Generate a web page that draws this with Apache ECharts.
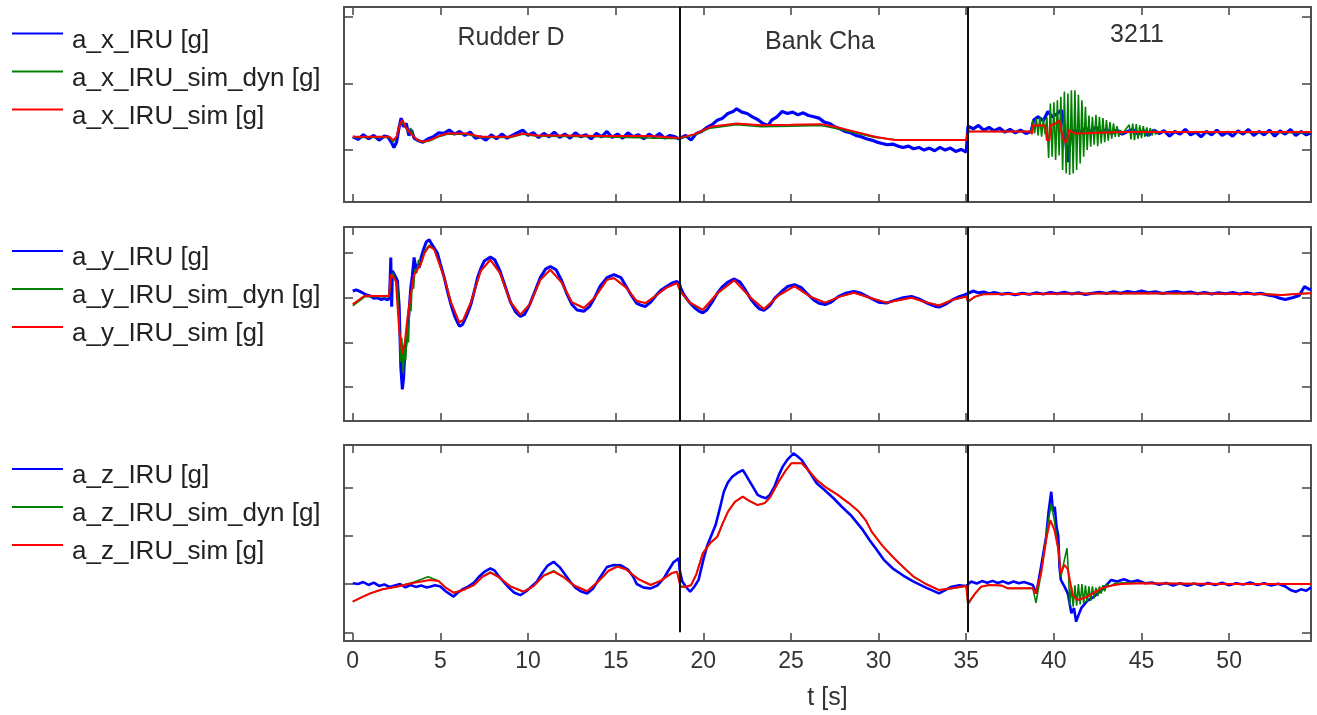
<!DOCTYPE html>
<html><head><meta charset="utf-8">
<script src="https://cdn.jsdelivr.net/npm/echarts@6/dist/echarts.min.js"></script>
<style>html,body{margin:0;padding:0;background:#fff}#c{width:1317px;height:715px}</style>
</head><body><div id="c"></div>
<script>
// ---------- data ----------
const tTicks = [0, 5, 10, 15, 20, 25, 30, 35, 40, 45, 50];
const axTicks = [0, 0.1, 0.2];
const ayTicks = [-0.4, -0.2, 0, 0.2];
const azTicks = [-0.2, 0, 0.2, 0.4];
const sectionNames = ['Rudder D', 'Bank Cha', '3211'];
const sectionBounds = [18.65, 35.07];

const namesX = ['a_x_IRU [g]', 'a_x_IRU_sim_dyn [g]', 'a_x_IRU_sim [g]'];
const namesY = ['a_y_IRU [g]', 'a_y_IRU_sim_dyn [g]', 'a_y_IRU_sim [g]'];
const namesZ = ['a_z_IRU [g]', 'a_z_IRU_sim_dyn [g]', 'a_z_IRU_sim [g]'];

// a_x
const axIRU = [[0,0.02],[0.3,0.016],[0.6,0.023],[0.9,0.017],[1.2,0.022],[1.5,0.015],[1.8,0.021],[2.0,0.02],[2.2,0.012],[2.35,0.004],[2.5,0.012],[2.65,0.035],[2.76,0.048],[2.9,0.035],[3.05,0.04],[3.2,0.022],[3.35,0.03],[3.5,0.018],[3.75,0.014],[4.0,0.012],[4.3,0.017],[4.6,0.02],[4.9,0.026],[5.2,0.025],[5.5,0.03],[5.8,0.024],[6.1,0.028],[6.4,0.022],[6.7,0.027],[7.0,0.018],[7.3,0.02],[7.6,0.015],[7.9,0.023],[8.2,0.017],[8.5,0.024],[8.8,0.018],[9.1,0.022],[9.4,0.026],[9.7,0.03],[10.0,0.022],[10.3,0.026],[10.6,0.019],[10.9,0.025],[11.2,0.02],[11.5,0.027],[11.8,0.019],[12.1,0.024],[12.4,0.018],[12.7,0.026],[13.0,0.02],[13.3,0.023],[13.6,0.017],[13.9,0.025],[14.2,0.02],[14.5,0.028],[14.8,0.019],[15.1,0.024],[15.4,0.018],[15.7,0.026],[16.0,0.02],[16.3,0.023],[16.6,0.017],[16.9,0.024],[17.2,0.019],[17.5,0.025],[17.8,0.018],[18.1,0.022],[18.4,0.02],[18.6,0.017],
[18.7,0.016],[19.0,0.022],[19.3,0.015],[19.6,0.025],[19.9,0.028],[20.2,0.034],[20.5,0.038],[20.8,0.045],[21.1,0.048],[21.4,0.055],[21.7,0.058],[21.9,0.062],[22.2,0.057],[22.5,0.055],[22.8,0.05],[23.1,0.046],[23.4,0.04],[23.7,0.037],[23.9,0.045],[24.2,0.05],[24.5,0.058],[24.8,0.055],[25.1,0.057],[25.4,0.053],[25.7,0.056],[26.0,0.052],[26.3,0.05],[26.6,0.048],[26.9,0.042],[27.2,0.04],[27.5,0.035],[27.8,0.032],[28.1,0.028],[28.4,0.026],[28.7,0.022],[29.0,0.02],[29.3,0.017],[29.6,0.015],[29.9,0.012],[30.2,0.01],[30.5,0.008],[30.8,0.009],[31.1,0.006],[31.4,0.004],[31.7,0.006],[32.0,0.002],[32.3,0.004],[32.6,0.0],[32.9,0.003],[33.2,-0.001],[33.5,0.004],[33.8,0.0],[34.1,0.003],[34.4,-0.002],[34.7,0.001],[35.0,-0.003],
[35.1,0.036],[35.4,0.032],[35.7,0.037],[36.0,0.03],[36.3,0.034],[36.6,0.029],[36.9,0.033],[37.2,0.027],[37.5,0.031],[37.8,0.026],[38.1,0.03],[38.4,0.025],[38.7,0.028],[38.85,0.045],[39.1,0.05],[39.4,0.044],[39.66,0.058],[39.9,0.05],[40.2,0.055],[40.42,0.06],[40.6,0.035],[40.8,-0.018],[40.95,0.02],[41.2,0.03],[41.5,0.026],[41.8,0.033],[42.1,0.028],[42.4,0.034],[42.7,0.026],[43.0,0.031],[43.3,0.025],[43.6,0.03],[43.9,0.024],[44.2,0.028],[44.5,0.031],[44.8,0.024],[45.1,0.029],[45.4,0.022],[45.7,0.03],[46.0,0.025],[46.3,0.029],[46.6,0.021],[46.9,0.028],[47.2,0.024],[47.5,0.031],[47.8,0.023],[48.1,0.027],[48.4,0.02],[48.7,0.028],[49.0,0.023],[49.3,0.03],[49.6,0.022],[49.9,0.027],[50.2,0.021],[50.5,0.029],[50.8,0.024],[51.1,0.031],[51.4,0.022],[51.7,0.028],[52.0,0.023],[52.3,0.03],[52.6,0.021],[52.9,0.029],[53.2,0.024],[53.5,0.031],[53.8,0.022],[54.1,0.028],[54.4,0.023],[54.67,0.026]];

const axSimDyn = [[0,0.019],[2.1,0.019],[2.3,0.012],[2.5,0.02],[2.7,0.042],[2.85,0.04],[3.0,0.035],[3.15,0.027],[3.3,0.033],[3.5,0.02],[3.7,0.014],[4.0,0.012],[4.4,0.014],[5.0,0.021],[5.4,0.024],[6.5,0.024],[7.3,0.019],[9.0,0.019],[9.7,0.024],[10.5,0.021],[14,0.02],[18.6,0.017],
[18.7,0.019],[19.5,0.023],[20.4,0.033],[21.9,0.038],[23.3,0.035],[25,0.036],[26.7,0.037],[27.5,0.033],[28.3,0.028],[29.8,0.019],[30.9,0.016],[35,0.015],
[35.1,0.028],[38.7,0.028],[38.8,0.045],[38.9,0.025],[39.0,0.048],[39.1,0.022],[39.2,0.05],[39.3,0.02],[39.4,0.047],[39.5,0.024],[39.6,0.05],[39.7,-0.012],[39.8,0.07],[39.9,-0.01],[40.0,0.072],[40.1,-0.015],[40.2,0.075],[40.3,-0.008],[40.4,0.08],[40.5,-0.03],[40.6,0.088],[40.7,-0.035],[40.8,0.085],[40.9,-0.0375],[41.0,0.09],[41.1,-0.035],[41.2,0.09],[41.3,-0.03],[41.4,0.083],[41.5,-0.02],[41.6,0.075],[41.7,-0.01],[41.8,0.065],[41.9,0.0],[42.0,0.052],[42.1,0.005],[42.2,0.05],[42.3,0.008],[42.4,0.053],[42.5,0.006],[42.6,0.05],[42.7,0.01],[42.8,0.048],[42.9,0.012],[43.0,0.045],[43.1,0.014],[43.2,0.042],[43.3,0.017],[43.4,0.04],[43.5,0.02],[43.6,0.036],[43.7,0.02],[43.8,0.03],[43.9,0.024],[44.0,0.028],[44.3,0.038],[44.4,0.016],[44.5,0.04],[44.6,0.015],[44.7,0.039],[44.8,0.017],[44.9,0.037],[45.0,0.018],[45.1,0.036],[45.2,0.02],[45.3,0.034],[45.4,0.021],[45.5,0.033],[45.6,0.022],[45.7,0.031],[45.8,0.024],[46.0,0.027],[54.67,0.026]];

const axSim = [[0,0.02],[2.1,0.02],[2.3,0.015],[2.5,0.02],[2.7,0.04],[2.85,0.045],[3.0,0.035],[3.3,0.025],[3.7,0.015],[4.0,0.0125],[4.4,0.015],[5.0,0.022],[5.4,0.025],[6.5,0.025],[7.3,0.02],[9.0,0.02],[9.7,0.025],[10.5,0.022],[12.0,0.022],[14,0.021],[17,0.021],[18.6,0.018],
[18.7,0.02],[19.5,0.024],[20.4,0.035],[21.9,0.04],[23.3,0.0375],[25,0.038],[26.7,0.039],[27.5,0.035],[28.3,0.03],[29.8,0.02],[30.9,0.015],[35,0.015],
[35.1,0.028],[38.7,0.028],[38.75,0.024],[38.8,0.0375],[39.5,0.037],[39.6,0.015],[39.75,0.015],[39.8,0.037],[40.1,0.04],[40.3,0.045],[40.45,0.025],[40.6,0.0125],[40.75,0.013],[40.85,0.03],[41.2,0.025],[44,0.027],[54.67,0.027]];

// a_y
const ayIRU = [[0,0.03],[0.2,0.035],[0.4,0.028],[0.6,0.02],[0.8,0.012],[1.0,0.008],[1.2,-0.002],[1.4,0.0],[1.6,-0.008],[1.8,-0.004],[2.0,-0.01],[2.1,0.0],[2.17,0.18],[2.22,-0.04],[2.26,0.12],[2.4,0.1],[2.55,0.075],[2.65,-0.04],[2.74,-0.31],[2.83,-0.41],[2.9,-0.36],[2.97,-0.25],[3.05,-0.2],[3.12,-0.134],[3.2,-0.075],[3.31,0.045],[3.4,0.1],[3.5,0.18],[3.6,0.13],[3.7,0.15],[3.79,0.134],[3.9,0.18],[4.07,0.224],[4.2,0.25],[4.36,0.26],[4.5,0.24],[4.6,0.245],[4.83,0.2],[5.0,0.15],[5.22,0.09],[5.4,0.03],[5.6,-0.03],[5.8,-0.08],[6.0,-0.115],[6.1,-0.128],[6.26,-0.12],[6.5,-0.08],[6.74,-0.03],[7.0,0.05],[7.12,0.09],[7.3,0.13],[7.5,0.164],[7.85,0.182],[8.1,0.17],[8.4,0.12],[8.7,0.05],[9.0,-0.02],[9.3,-0.065],[9.56,-0.084],[9.8,-0.075],[10.1,-0.03],[10.4,0.03],[10.7,0.09],[11.0,0.128],[11.27,0.14],[11.6,0.125],[11.9,0.08],[12.2,0.02],[12.5,-0.03],[12.8,-0.055],[13.18,-0.061],[13.5,-0.04],[13.8,0.0],[14.1,0.05],[14.5,0.09],[14.9,0.103],[15.3,0.09],[15.6,0.05],[15.9,0.01],[16.2,-0.025],[16.5,-0.035],[16.7,-0.039],[17.0,-0.02],[17.3,0.01],[17.6,0.035],[17.9,0.05],[18.2,0.065],[18.5,0.073],
[18.65,0.06],[18.71,0.043],[18.9,0.013],[19.2,-0.02],[19.5,-0.045],[19.75,-0.06],[19.97,-0.068],[20.2,-0.055],[20.5,-0.02],[20.8,0.02],[21.1,0.05],[21.4,0.07],[21.77,0.084],[22.1,0.07],[22.4,0.035],[22.7,-0.005],[23.0,-0.035],[23.2,-0.05],[23.46,-0.057],[23.8,-0.035],[24.1,0.0],[24.5,0.03],[24.8,0.05],[25.2,0.058],[25.6,0.045],[25.9,0.02],[26.3,-0.01],[26.6,-0.025],[26.95,-0.031],[27.3,-0.02],[27.7,0.005],[28.1,0.02],[28.6,0.028],[29.0,0.02],[29.5,0.0],[30.0,-0.02],[30.44,-0.024],[30.9,-0.012],[31.4,0.0],[31.88,0.006],[32.3,-0.005],[32.8,-0.025],[33.2,-0.038],[33.45,-0.042],[33.8,-0.03],[34.2,-0.01],[34.6,0.005],[34.9,0.013],[35.0,0.015],
[35.1,0.02],[35.4,0.03],[35.7,0.022],[36.0,0.026],[36.3,0.018],[36.6,0.024],[37.0,0.016],[37.4,0.02],[37.8,0.013],[38.2,0.02],[38.6,0.015],[39.0,0.022],[39.4,0.016],[39.8,0.024],[40.2,0.018],[40.6,0.025],[41.0,0.017],[41.4,0.022],[41.8,0.014],[42.2,0.02],[42.6,0.025],[43.0,0.019],[43.4,0.027],[43.8,0.02],[44.2,0.028],[44.6,0.022],[45.0,0.03],[45.4,0.022],[45.8,0.027],[46.2,0.019],[46.6,0.024],[47.0,0.028],[47.4,0.021],[47.8,0.026],[48.2,0.018],[48.6,0.024],[49.0,0.017],[49.4,0.022],[49.8,0.018],[50.2,0.023],[50.6,0.017],[51.0,0.022],[51.4,0.016],[51.8,0.02],[52.2,0.012],[52.6,0.006],[52.8,0.0],[53.2,-0.008],[53.6,0.0],[54.0,0.01],[54.3,0.05],[54.5,0.04],[54.67,0.035]];

const aySimDyn = [[0,-0.036],[0.7,0.005],[2.07,0.005],[2.17,0.09],[2.3,0.11],[2.46,0.07],[2.55,0.06],[2.65,-0.1],[2.72,-0.29],[2.8,-0.18],[2.88,-0.34],[2.95,-0.22],[3.02,-0.28],[3.1,-0.12],[3.18,-0.2],[3.25,-0.02],[3.32,-0.06],[3.4,0.08],[3.47,0.04],[3.55,0.13],[3.65,0.11],[3.75,0.17],[3.88,0.15],[4.1,0.21],[4.36,0.235],[4.65,0.216],[5.22,0.09],[5.6,-0.02],[6.07,-0.11],[6.3,-0.1],[6.74,-0.02],[7.3,0.12],[7.85,0.17],[8.4,0.11],[9.0,-0.02],[9.56,-0.076],[10.1,-0.03],[10.7,0.08],[11.27,0.125],[11.9,0.07],[12.5,-0.02],[13.18,-0.046],[13.8,0.0],[14.5,0.08],[14.9,0.088],[15.6,0.045],[16.2,-0.015],[16.7,-0.024],[17.3,0.01],[17.9,0.045],[18.5,0.066],
[18.7,0.025],[19.2,-0.022],[19.97,-0.056],[20.8,0.018],[21.77,0.078],[22.7,0.0],[23.46,-0.051],[24.3,0.01],[25.2,0.052],[26.1,0.005],[26.95,-0.022],[27.8,0.005],[28.6,0.022],[29.5,0.0],[30.44,-0.022],[31.88,0.0],[32.7,-0.02],[33.45,-0.035],[34.2,-0.01],[35.0,0.005],
[35.1,-0.02],[35.5,0.004],[36,0.016],[40,0.018],[45,0.02],[50,0.018],[52,0.016],[53,0.012],[54,0.018],[54.67,0.02]];

const aySim = [[0,-0.03],[0.65,0.0075],[2.07,0.0075],[2.17,0.104],[2.46,0.075],[2.55,0.07],[2.65,-0.149],[2.83,-0.25],[2.97,-0.2],[3.12,-0.09],[3.31,0.015],[3.5,0.104],[3.88,0.149],[4.1,0.2],[4.36,0.231],[4.65,0.216],[5.22,0.09],[5.6,-0.02],[6.07,-0.11],[6.3,-0.1],[6.74,-0.02],[7.3,0.12],[7.85,0.17],[8.4,0.11],[9.0,-0.02],[9.56,-0.076],[10.1,-0.03],[10.7,0.08],[11.27,0.125],[11.9,0.07],[12.5,-0.02],[13.18,-0.046],[13.8,0.0],[14.5,0.08],[14.9,0.088],[15.6,0.045],[16.2,-0.015],[16.7,-0.024],[17.3,0.01],[17.9,0.045],[18.5,0.066],
[18.7,0.03],[19.2,-0.02],[19.97,-0.054],[20.8,0.02],[21.77,0.078],[22.7,0.0],[23.46,-0.051],[24.3,0.01],[25.2,0.052],[26.1,0.005],[26.95,-0.022],[27.8,0.005],[28.6,0.022],[29.5,0.0],[30.44,-0.022],[31.88,0.0],[32.7,-0.02],[33.45,-0.035],[34.2,-0.01],[35.0,0.005],
[35.1,-0.016],[35.5,0.005],[36,0.016],[40,0.018],[45,0.02],[50,0.018],[52,0.016],[53,0.012],[54,0.018],[54.67,0.02]];

// a_z
const azIRU = [[0,0.003],[0.3,0.0],[0.6,0.008],[0.9,-0.004],[1.2,0.006],[1.5,-0.008],[1.8,-0.002],[2.1,-0.012],[2.4,-0.006],[2.7,0.0],[3.0,-0.014],[3.3,-0.004],[3.6,-0.012],[3.9,-0.006],[4.2,-0.014],[4.4,-0.011],[4.7,-0.005],[5.0,-0.01],[5.3,-0.03],[5.5,-0.04],[5.75,-0.052],[6.0,-0.035],[6.3,-0.02],[6.6,-0.01],[6.9,0.005],[7.2,0.03],[7.5,0.05],[7.85,0.065],[8.1,0.055],[8.3,0.035],[8.6,0.01],[8.9,-0.015],[9.2,-0.035],[9.56,-0.046],[9.9,-0.03],[10.2,-0.01],[10.5,0.01],[10.8,0.045],[11.1,0.075],[11.46,0.092],[11.8,0.07],[12.1,0.04],[12.4,0.01],[12.7,-0.015],[13.0,-0.03],[13.37,-0.039],[13.7,-0.02],[14.13,0.03],[14.5,0.07],[14.9,0.079],[15.3,0.077],[15.7,0.06],[16.0,0.03],[16.2,0.0],[16.6,-0.015],[17.0,-0.018],[17.4,-0.005],[17.75,0.024],[18.0,0.055],[18.3,0.09],[18.6,0.106],
[18.65,0.058],[18.8,0.01],[19.0,-0.011],[19.25,-0.032],[19.5,-0.01],[19.73,0.017],[20.0,0.1],[20.2,0.154],[20.45,0.2],[20.7,0.244],[21.0,0.33],[21.17,0.382],[21.4,0.42],[21.65,0.444],[21.95,0.46],[22.25,0.472],[22.4,0.455],[22.6,0.43],[22.85,0.4],[23.1,0.369],[23.35,0.36],[23.58,0.355],[23.8,0.37],[24.06,0.403],[24.3,0.45],[24.53,0.486],[24.8,0.515],[25.14,0.541],[25.35,0.53],[25.62,0.513],[26.0,0.47],[26.47,0.417],[26.9,0.39],[27.43,0.355],[27.9,0.32],[28.4,0.286],[29.1,0.224],[29.5,0.18],[29.83,0.148],[30.3,0.1],[30.8,0.065],[31.4,0.035],[32.0,0.01],[32.7,-0.015],[33.45,-0.039],[33.8,-0.025],[34.17,-0.011],[34.6,-0.005],[35.0,-0.008],
[35.1,-0.004],[35.27,0.01],[35.6,0.002],[35.9,0.012],[36.2,0.005],[36.5,0.013],[36.8,0.004],[37.1,0.011],[37.4,0.002],[37.7,0.01],[38.0,0.003],[38.3,0.008],[38.6,0.001],[38.8,-0.004],[39.0,-0.039],[39.27,0.072],[39.56,0.196],[39.7,0.3],[39.85,0.382],[39.95,0.3],[40.05,0.32],[40.15,0.237],[40.25,0.2],[40.32,0.072],[40.4,0.017],[40.6,-0.01],[40.8,-0.04],[41.0,-0.121],[41.15,-0.1],[41.27,-0.156],[41.4,-0.13],[41.56,-0.1],[41.9,-0.07],[42.3,-0.052],[42.8,-0.02],[43.27,0.017],[43.6,0.01],[44.0,0.02],[44.4,0.008],[44.8,0.015],[45.2,0.003],[45.6,0.006],[46.0,-0.003],[46.4,0.004],[46.8,-0.006],[47.2,0.003],[47.6,-0.007],[48.0,0.002],[48.4,-0.006],[48.8,0.004],[49.2,-0.004],[49.6,0.005],[50.0,-0.005],[50.4,0.003],[50.8,-0.002],[51.2,0.006],[51.6,-0.004],[52.0,0.003],[52.4,-0.006],[52.8,0.001],[53.2,-0.01],[53.5,-0.025],[53.8,-0.032],[54.1,-0.022],[54.4,-0.028],[54.67,-0.014]];

const azSimDyn = [[0,-0.073],[0.5,-0.055],[0.99,-0.039],[1.7,-0.022],[2.5,-0.011],[3.5,0.008],[4.3,0.03],[4.9,0.012],[5.3,-0.015],[5.75,-0.036],[6.3,-0.025],[6.9,-0.005],[7.4,0.03],[7.85,0.05],[8.3,0.03],[9.0,-0.01],[9.75,-0.032],[10.3,-0.01],[10.9,0.035],[11.46,0.055],[12.0,0.03],[12.6,-0.005],[13.37,-0.03],[14.0,0.01],[14.6,0.055],[15.1,0.075],[15.6,0.06],[16.3,0.02],[17.0,-0.004],[17.6,0.015],[18.2,0.045],[18.5,0.051],[18.6,0.048],
[18.7,-0.011],[19.0,-0.011],[19.3,-0.005],[19.6,0.04],[19.97,0.127],[20.4,0.17],[20.8,0.196],[21.1,0.25],[21.41,0.3],[21.8,0.34],[22.25,0.362],[22.6,0.345],[23.1,0.327],[23.5,0.335],[23.82,0.36],[24.3,0.424],[24.7,0.47],[25.02,0.5],[25.62,0.5],[26.0,0.47],[26.47,0.431],[27.0,0.4],[27.67,0.369],[28.3,0.335],[28.87,0.3],[29.3,0.26],[29.6,0.217],[30.2,0.16],[30.8,0.113],[31.4,0.07],[32.0,0.03],[32.7,0.0],[33.45,-0.025],[34.2,-0.018],[35.0,-0.008],
[35.1,-0.085],[35.18,-0.078],[35.5,-0.04],[35.85,-0.011],[36.3,-0.004],[37.0,-0.006],[37.37,-0.018],[38.8,-0.018],[38.98,-0.078],[39.27,0.044],[39.6,0.22],[39.85,0.334],[40.03,0.26],[40.26,0.141],[40.4,0.03],[40.6,0.1],[40.75,0.148],[40.85,0.02],[40.9,-0.09],[41.0,-0.01],[41.1,-0.094],[41.2,-0.005],[41.3,-0.09],[41.4,0.0],[41.5,-0.085],[41.6,0.0],[41.7,-0.08],[41.8,-0.005],[41.9,-0.075],[42.0,-0.01],[42.1,-0.07],[42.2,-0.01],[42.3,-0.06],[42.4,-0.015],[42.5,-0.05],[42.6,-0.01],[42.7,-0.04],[42.8,-0.005],[42.9,-0.03],[43.0,0.0],[43.2,-0.01],[43.5,0.003],[44,0.005],[45,0.003],[50,0.0],[54.67,0.0]];

const azSim = [[0,-0.073],[0.5,-0.055],[0.99,-0.039],[1.7,-0.022],[2.5,-0.011],[3.5,0.005],[4.4,0.017],[4.9,0.012],[5.3,-0.015],[5.75,-0.036],[6.3,-0.025],[6.9,-0.005],[7.4,0.03],[7.85,0.047],[8.3,0.03],[9.0,-0.01],[9.75,-0.032],[10.3,-0.01],[10.9,0.035],[11.46,0.051],[12.0,0.03],[12.6,-0.005],[13.37,-0.03],[14.0,0.01],[14.6,0.055],[15.1,0.072],[15.6,0.06],[16.3,0.02],[17.0,-0.004],[17.6,0.015],[18.2,0.045],[18.5,0.051],[18.6,0.048],
[18.7,-0.011],[19.0,-0.011],[19.3,-0.005],[19.6,0.04],[19.97,0.127],[20.4,0.17],[20.8,0.196],[21.1,0.25],[21.41,0.3],[21.8,0.34],[22.25,0.362],[22.6,0.345],[23.1,0.327],[23.5,0.335],[23.82,0.36],[24.3,0.424],[24.7,0.47],[25.02,0.5],[25.62,0.5],[26.0,0.47],[26.47,0.431],[27.0,0.4],[27.67,0.369],[28.3,0.335],[28.87,0.3],[29.3,0.26],[29.6,0.217],[30.2,0.16],[30.8,0.113],[31.4,0.07],[32.0,0.03],[32.7,0.0],[33.45,-0.025],[34.2,-0.018],[35.0,-0.008],
[35.1,-0.08],[35.18,-0.073],[35.5,-0.04],[35.85,-0.011],[36.3,-0.004],[37.0,-0.006],[37.37,-0.018],[38.8,-0.018],[38.95,-0.04],[39.27,0.044],[39.6,0.2],[39.8,0.265],[40.03,0.224],[40.26,0.141],[40.4,0.044],[40.6,0.079],[40.8,0.06],[41.07,-0.046],[41.35,-0.066],[41.73,-0.058],[42.2,-0.04],[42.7,-0.018],[43.3,-0.006],[43.85,0.0],[45,0.003],[50,0.0],[54.67,0.0]];

// ---------- chart ----------
const FONT = 'Liberation Sans, Arial, sans-serif';
const COLORS = ['#0000ff', '#008000', '#ff0000'];
const X_MIN = -0.5, X_MAX = 54.67;
const panels = [
  { top: 7,   height: 195, yMin: -0.078, yMax: 0.215, ticks: axTicks, names: namesX, data: [axIRU, axSimDyn, axSim], blueW: 3.2, sepBottom: null, legendTop: 27.5 },
  { top: 227, height: 194, yMin: -0.552, yMax: 0.3166, ticks: ayTicks, names: namesY, data: [ayIRU, aySimDyn, aySim], blueW: 3, sepBottom: null, legendTop: 245 },
  { top: 445, height: 196, yMin: -0.236, yMax: 0.5756, ticks: azTicks, names: namesZ, data: [azIRU, azSimDyn, azSim], blueW: 2.6, sepBottom: -0.2, legendTop: 463 }
];
// legend line drawn in the upper part of its 51x16 box
const LEGEND_ICON = 'path://M0,0 L51,0 L51,2 L0,2 Z M0,16 L0.01,16';

const grid = [], xAxis = [], yAxis = [], series = [], legend = [];
panels.forEach((p, i) => {
  grid.push({ left: 344, top: p.top, width: 967, height: p.height, show: true,
    borderColor: '#505050', borderWidth: 2, backgroundColor: 'transparent' });
  ['bottom', 'top'].forEach(pos => {
    const isLabelled = (i === 2 && pos === 'bottom');
    xAxis.push({
      type: 'value', gridIndex: i, position: pos, min: X_MIN, max: X_MAX,
      axisLine: { show: false, onZero: false },
      axisTick: { show: true, inside: true, length: 8, customValues: tTicks, lineStyle: { color: '#444', width: 1.5 } },
      axisLabel: { show: isLabelled, customValues: tTicks, margin: 9, fontSize: 23, color: '#333', fontFamily: FONT },
      splitLine: { show: false },
      name: isLabelled ? 't [s]' : '', nameLocation: 'middle', nameGap: 45,
      nameTextStyle: { fontSize: 25, color: '#333', fontFamily: FONT }
    });
  });
  ['left', 'right'].forEach(pos => {
    yAxis.push({
      type: 'value', gridIndex: i, position: pos, min: p.yMin, max: p.yMax,
      axisLine: { show: false, onZero: false },
      axisTick: { show: true, inside: true, length: 9, customValues: p.ticks, lineStyle: { color: '#444', width: 1.5 } },
      axisLabel: { show: false, customValues: p.ticks },
      splitLine: { show: false }
    });
  });
  p.data.forEach((d, k) => {
    const s = {
      name: p.names[k], type: 'line', xAxisIndex: 2 * i, yAxisIndex: 2 * i,
      data: d, showSymbol: false, symbol: 'none', animation: false,
      lineStyle: { color: COLORS[k], width: k === 0 ? p.blueW : (k === 1 ? 1.6 : 2) },
      itemStyle: { color: COLORS[k] }
    };
    if (k === 2) {
      s.markLine = {
        silent: true, symbol: ['none', 'none'], animation: false,
        label: { show: false },
        lineStyle: { color: '#111', width: 2, type: 'solid' },
        emphasis: { disabled: true },
        data: p.sepBottom === null
          ? sectionBounds.map(t => ({ xAxis: t }))
          : sectionBounds.map(t => [{ coord: [t, p.yMax] }, { coord: [t, p.sepBottom] }])
      };
    }
    series.push(s);
  });
  legend.push({
    data: p.names, orient: 'vertical', left: 12, top: p.legendTop, padding: 0,
    itemGap: 12, itemWidth: 51, itemHeight: 16, icon: LEGEND_ICON,
    itemStyle: { borderWidth: 0 },
    textStyle: { fontSize: 26, lineHeight: 26, padding: [0, 0, 0, 4], color: '#222', fontFamily: FONT }
  });
});

const titleCenters = [[511, 38.5], [820, 42], [1137, 35]];
const title = sectionNames.map((n, i) => ({
  text: n, left: titleCenters[i][0], top: titleCenters[i][1], padding: 0,
  textAlign: 'center', textVerticalAlign: 'middle',
  textStyle: { fontSize: 25, fontWeight: 'normal', color: '#333', fontFamily: FONT }
}));

const chart = echarts.init(document.getElementById('c'), null, { renderer: 'canvas' });
chart.setOption({ animation: false, backgroundColor: '#fff', title, grid, xAxis, yAxis, legend, series });
</script></body></html>
